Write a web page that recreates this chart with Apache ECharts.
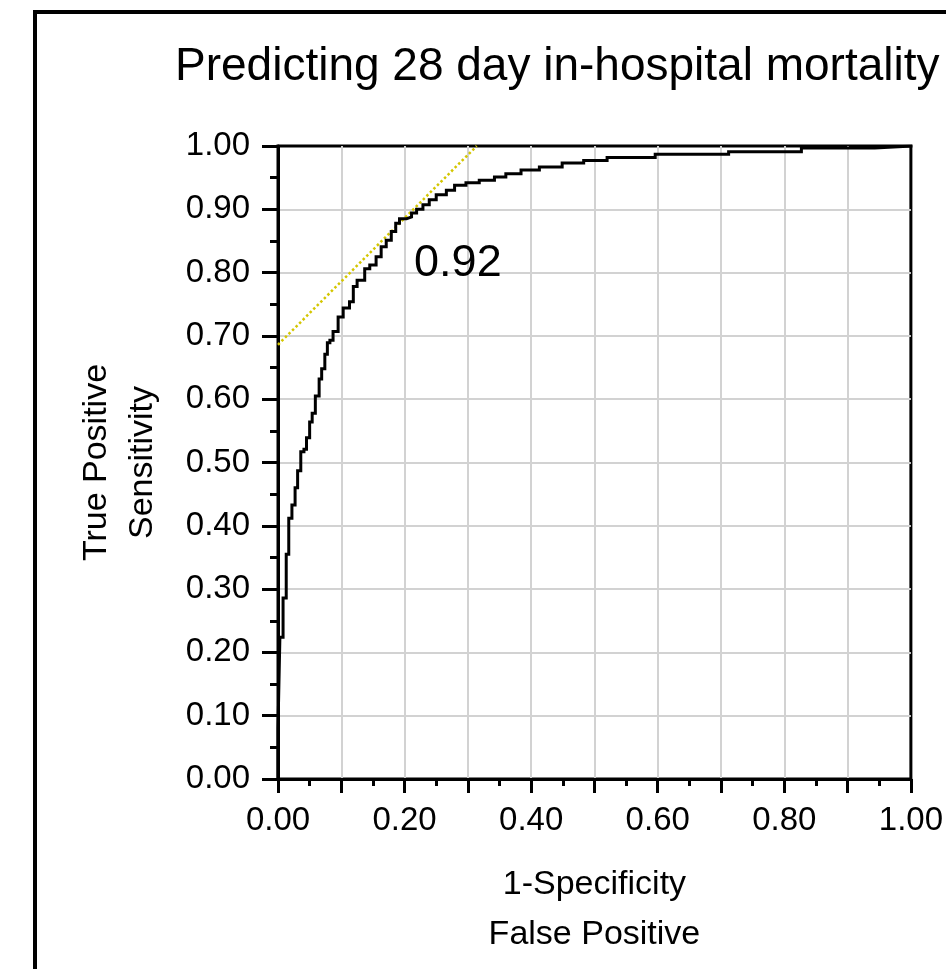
<!DOCTYPE html>
<html>
<head>
<meta charset="utf-8">
<title>ROC curve – 28 day in-hospital mortality</title>
<script src="https://cdn.jsdelivr.net/npm/echarts@6/dist/echarts.min.js"></script>
<style>
  html, body { margin: 0; padding: 0; background: #fff; }
  #chart { width: 946px; height: 969px; }
</style>
</head>
<body>
<div id="chart"></div>
<script>
// ROC curve vertices: [1 - specificity, sensitivity]
const rocPoints = [
  [0, 0], [0, 0.08], [0.003, 0.08], [0.003, 0.224], [0.008, 0.224], [0.008, 0.286],
  [0.013, 0.286], [0.013, 0.355], [0.017, 0.355], [0.017, 0.412], [0.022, 0.412],
  [0.022, 0.433], [0.027, 0.433], [0.027, 0.46], [0.031, 0.46], [0.031, 0.487],
  [0.036, 0.487], [0.036, 0.517], [0.041, 0.517], [0.041, 0.521], [0.045, 0.521],
  [0.045, 0.539], [0.050, 0.539], [0.050, 0.564], [0.054, 0.564], [0.054, 0.578],
  [0.059, 0.578], [0.059, 0.605], [0.065, 0.605], [0.065, 0.632], [0.069, 0.632],
  [0.069, 0.648], [0.074, 0.648], [0.074, 0.671], [0.078, 0.671], [0.078, 0.689],
  [0.082, 0.689], [0.082, 0.693], [0.087, 0.693], [0.087, 0.707], [0.095, 0.707],
  [0.095, 0.730], [0.103, 0.730], [0.103, 0.744], [0.113, 0.744], [0.113, 0.754],
  [0.119, 0.754], [0.119, 0.778], [0.125, 0.778], [0.125, 0.788], [0.137, 0.788],
  [0.137, 0.806], [0.145, 0.806], [0.145, 0.812], [0.155, 0.812], [0.155, 0.825],
  [0.163, 0.825], [0.163, 0.841], [0.171, 0.841], [0.171, 0.851], [0.179, 0.851],
  [0.179, 0.865], [0.186, 0.865], [0.186, 0.878], [0.192, 0.878], [0.192, 0.885],
  [0.203, 0.885], [0.203, 0.888], [0.211, 0.888], [0.211, 0.894], [0.219, 0.894],
  [0.219, 0.900], [0.229, 0.900], [0.229, 0.907], [0.239, 0.907], [0.239, 0.915],
  [0.250, 0.915], [0.250, 0.923], [0.266, 0.923], [0.266, 0.930], [0.279, 0.930],
  [0.279, 0.938], [0.297, 0.938], [0.297, 0.942], [0.318, 0.942], [0.318, 0.946],
  [0.342, 0.946], [0.342, 0.951], [0.360, 0.951], [0.360, 0.956], [0.384, 0.956],
  [0.384, 0.962], [0.413, 0.962], [0.413, 0.967], [0.449, 0.967], [0.449, 0.973],
  [0.483, 0.973], [0.483, 0.977], [0.520, 0.977], [0.520, 0.982], [0.596, 0.982],
  [0.596, 0.987], [0.712, 0.987], [0.712, 0.991], [0.827, 0.991], [0.827, 0.997],
  [0.943, 0.997], [0.943, 1.0], [1.0, 1.0]
];

// Tangent line at the optimal cut-off (slope 1)
const tangentPoints = [[0, 0.686], [0.314, 1.0]];

// Area under the curve, printed inside the plot
const aucValue = 0.92;
const aucLabelAt = [0.215, 0.815];

const titleText = 'Predicting 28 day in-hospital mortality';
const xAxisLines = ['1-Specificity', 'False Positive'];
const yAxisLines = ['True Positive', 'Sensitivity'];

const FONT = '"Liberation Sans", Arial, sans-serif';

const chart = echarts.init(document.getElementById('chart'), null, { renderer: 'canvas' });

const option = {
  animation: false,
  backgroundColor: '#fff',
  title: {
    text: titleText,
    left: 175,
    top: 44,
    padding: 0,
    textStyle: { fontFamily: FONT, fontSize: 46, fontWeight: 'normal', color: '#000' }
  },
  grid: {
    left: 278, top: 146, right: 33, bottom: 190,
    show: true, borderColor: '#000', borderWidth: 3, backgroundColor: 'transparent'
  },
  xAxis: {
    type: 'value', min: 0, max: 1, interval: 0.1,
    name: xAxisLines.join('\n'),
    nameLocation: 'middle', nameGap: 81,
    nameTextStyle: { fontFamily: FONT, fontSize: 34, color: '#000', lineHeight: 50 },
    axisLine: { show: true, lineStyle: { color: '#000', width: 3 } },
    axisTick: { show: true, length: 14, lineStyle: { color: '#000', width: 3 } },
    minorTick: { show: true, splitNumber: 2, length: 7, lineStyle: { color: '#000', width: 3 } },
    axisLabel: {
      margin: 25, fontFamily: FONT, fontSize: 33, color: '#000',
      formatter: v => (Math.round(v * 10) % 2 === 0 ? v.toFixed(2) : '')
    },
    splitLine: { show: true, showMinLine: false, showMaxLine: false, lineStyle: { color: '#d2d2d2', width: 2 } }
  },
  yAxis: {
    type: 'value', min: 0, max: 1, interval: 0.1,
    name: yAxisLines.join('\n'),
    nameLocation: 'middle', nameGap: 112,
    nameTextStyle: { fontFamily: FONT, fontSize: 34, color: '#000', lineHeight: 46 },
    axisLine: { show: true, lineStyle: { color: '#000', width: 3 } },
    axisTick: { show: true, length: 16, lineStyle: { color: '#000', width: 3 } },
    minorTick: { show: true, splitNumber: 2, length: 8, lineStyle: { color: '#000', width: 3 } },
    axisLabel: {
      margin: 28, fontFamily: FONT, fontSize: 33, color: '#000',
      formatter: v => v.toFixed(2)
    },
    splitLine: { show: true, showMinLine: false, showMaxLine: false, lineStyle: { color: '#d2d2d2', width: 2 } }
  },
  series: [
    {
      name: 'Tangent',
      type: 'line',
      data: tangentPoints,
      symbol: 'none',
      z: 3,
      lineStyle: { color: '#d4c600', width: 2.5, type: [2.5, 2.5] }
    },
    {
      name: 'ROC',
      type: 'line',
      data: rocPoints,
      symbol: 'none',
      z: 4,
      lineStyle: { color: '#000', width: 3, join: 'miter', cap: 'square' }
    }
  ]
};

chart.setOption(option);

// Outer frame and the AUC annotation, positioned through the chart's own scales
const aucPx = chart.convertToPixel({ gridIndex: 0 }, aucLabelAt);
chart.setOption({
  graphic: [
    {
      type: 'rect',
      shape: { x: 35, y: 12, width: 1000, height: 1000 },
      style: { fill: 'none', stroke: '#000', lineWidth: 4 },
      z: 10, silent: true
    },
    {
      type: 'text',
      x: aucPx[0], y: aucPx[1],
      style: {
        text: aucValue.toFixed(2),
        font: '45px ' + FONT,
        fill: '#000',
        textAlign: 'left',
        textVerticalAlign: 'middle'
      },
      z: 10
    }
  ]
});
</script>
</body>
</html>
